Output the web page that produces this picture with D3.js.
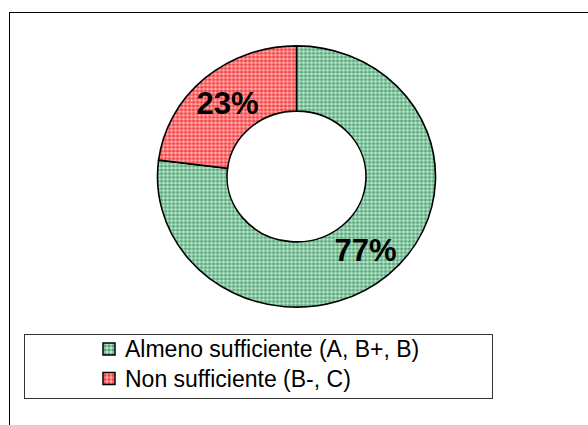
<!DOCTYPE html>
<html>
<head>
<meta charset="utf-8">
<script src="https://cdn.jsdelivr.net/npm/d3@7"></script>
<style>
  html, body { margin: 0; padding: 0; background: #fff; }
  svg { display: block; }
</style>
</head>
<body>
<script>
// data
var categories = ["Almeno sufficiente (A, B+, B)", "Non sufficiente (B-, C)"];
var values = [77, 23];
var labels = ["77%", "23%"];

//Width and height
var w = 588;
var h = 425;
var cx = 296.5, cy = 176.5;
var rOuter = 139, rInner = 69.5;
var squash = 0.94;

var svg = d3.select("body")
    .append("svg")
    .attr("width", w)
    .attr("height", h);

// texture patterns like the old excel fills
var defs = svg.append("defs");
var tex = [
    { id: "pg", base: "#86c6a1", dark: "#56a87c", light: "#bfe5cd" },
    { id: "pr", base: "#ff7272", dark: "#ee4444", light: "#ffb2b2" }
];
tex.forEach(function (t) {
    var p = defs.append("pattern")
        .attr("id", t.id)
        .attr("patternUnits", "userSpaceOnUse")
        .attr("width", 4)
        .attr("height", 4);
    p.append("rect").attr("width", 4).attr("height", 4).attr("fill", t.base);
    p.append("rect").attr("width", 2).attr("height", 2).attr("fill", t.dark);
    p.append("rect").attr("x", 2).attr("y", 2).attr("width", 2).attr("height", 2).attr("fill", t.light);
});

// outer frame (runs off the page at right and bottom)
svg.append("rect")
    .attr("x", 9.5)
    .attr("y", 12.5)
    .attr("width", 700)
    .attr("height", 600)
    .attr("fill", "#fff")
    .attr("stroke", "#000")
    .attr("stroke-width", 1);

var pie = d3.pie().sort(null).value(function (d) { return d; });
var arcs = pie(values);

var arc = d3.arc()
    .innerRadius(rInner)
    .outerRadius(rOuter);

var g = svg.append("g")
    .attr("transform", "translate(" + cx + "," + cy + ") scale(1," + squash + ")");

g.selectAll("path")
    .data(arcs)
    .enter()
    .append("path")
    .attr("d", arc)
    .attr("fill", function (d, i) { return "url(#" + tex[i].id + ")"; })
    .attr("stroke", "#000")
    .attr("stroke-width", 1.6)
    .attr("vector-effect", "non-scaling-stroke");

// percentage labels at arc centroids
svg.selectAll("text.pct")
    .data(arcs)
    .enter()
    .append("text")
    .attr("class", "pct")
    .text(function (d, i) { return labels[i]; })
    .attr("x", function (d) { return cx + arc.centroid(d)[0]; })
    .attr("y", function (d) { return cy + arc.centroid(d)[1] * squash; })
    .attr("dy", "0.36em")
    .attr("text-anchor", "middle")
    .attr("font-family", "Liberation Sans, Arial, sans-serif")
    .attr("font-weight", "bold")
    .attr("font-size", "31px")
    .attr("fill", "#000");

// legend
var lg = svg.append("g");
lg.append("rect")
    .attr("x", 24.5)
    .attr("y", 334.5)
    .attr("width", 468)
    .attr("height", 64)
    .attr("fill", "#fff")
    .attr("stroke", "#333")
    .attr("stroke-width", 1);

var rowY = d3.scalePoint()
    .domain(categories)
    .range([349, 378.5]);

var items = lg.selectAll("g.item")
    .data(categories)
    .enter()
    .append("g")
    .attr("class", "item")
    .attr("transform", function (d) { return "translate(0," + rowY(d) + ")"; });

items.append("rect")
    .attr("x", 103)
    .attr("y", -6)
    .attr("width", 12)
    .attr("height", 12)
    .attr("fill", function (d, i) { return "url(#" + tex[i].id + ")"; })
    .attr("stroke", "#000")
    .attr("stroke-width", 1.5);

items.append("text")
    .text(function (d) { return d; })
    .attr("x", 125)
    .attr("y", 0)
    .attr("dy", "0.36em")
    .attr("font-family", "Liberation Sans, Arial, sans-serif")
    .attr("font-size", "23px")
    .attr("fill", "#000");
</script>
</body>
</html>
